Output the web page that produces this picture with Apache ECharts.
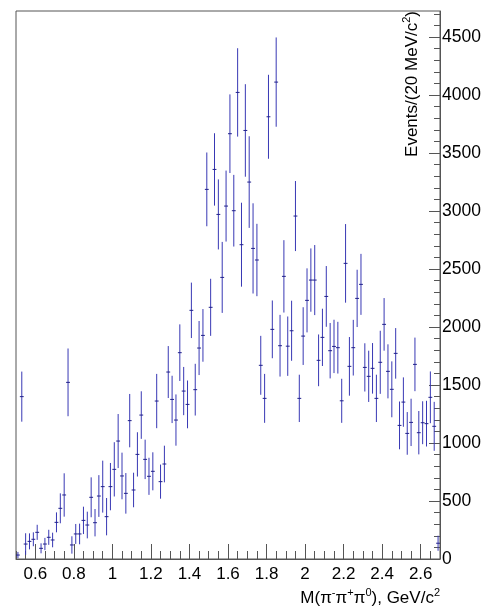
<!DOCTYPE html>
<html>
<head>
<meta charset="utf-8">
<script src="https://cdn.jsdelivr.net/npm/echarts@6/dist/echarts.min.js"></script>
<style>
  html, body { margin: 0; padding: 0; background: #ffffff; }
  #chart { width: 500px; height: 610px; }
</style>
</head>
<body>
<div id="chart"></div>
<script>
// Invariant mass bin centres (GeV/c^2), 20 MeV bins
const massBins = [
  0.51, 0.53, 0.55, 0.57, 0.59, 0.61, 0.63, 0.65, 0.67, 0.69,
  0.71, 0.73, 0.75, 0.77, 0.79, 0.81, 0.83, 0.85, 0.87, 0.89,
  0.91, 0.93, 0.95, 0.97, 0.99, 1.01, 1.03, 1.05, 1.07, 1.09,
  1.11, 1.13, 1.15, 1.17, 1.19, 1.21, 1.23, 1.25, 1.27, 1.29,
  1.31, 1.33, 1.35, 1.37, 1.39, 1.41, 1.43, 1.45, 1.47, 1.49,
  1.51, 1.53, 1.55, 1.57, 1.59, 1.61, 1.63, 1.65, 1.67, 1.69,
  1.71, 1.73, 1.75, 1.77, 1.79, 1.81, 1.83, 1.85, 1.87, 1.89,
  1.91, 1.93, 1.95, 1.97, 1.99, 2.01, 2.03, 2.05, 2.07, 2.09,
  2.11, 2.13, 2.15, 2.17, 2.19, 2.21, 2.23, 2.25, 2.27, 2.29,
  2.31, 2.33, 2.35, 2.37, 2.39, 2.41, 2.43, 2.45, 2.47, 2.49,
  2.51, 2.53, 2.55, 2.57, 2.59, 2.61, 2.63, 2.65, 2.67, 2.69
];

// Events per bin
const events = [
    34, 1400,  129,  152,  170,  230,   92,  129,  187,  164,
   316,  437,  552, 1523,  121,  216,  216,  333,  293,  532,
   313,  543,  624,  365,  624,  773, 1017,  716,  566, 1193,
   595,  902, 1241,  859,  713,  756, 1362,  667,  819, 1612,
  1376, 1198, 1779, 1448, 1333, 2144, 1460, 1819, 1928, 3187,
  2170, 3359, 2971, 2428, 3043, 3667, 3003, 4023, 2710, 3695,
  3250, 2678, 2578, 1670, 1385, 3813, 1980, 4112, 1839, 2437,
  1835, 1968, 2957, 1385, 1922, 2230, 2405, 2405, 1713, 1911,
  2264, 1796, 1833, 1822, 1364, 2549, 1661, 1822, 2247, 2368,
  1652, 1575, 1644, 1385, 1696, 2023, 1618, 1463, 1773, 1152,
  1353, 1083, 1178, 1678, 1089, 1175, 1167, 1394, 1144,  136
];

// Statistical uncertainty per bin
const eventErrors = [
   27, 216,  93,  69,  60,  65,  43,  53,  65,  63,
   86, 129, 187, 292,  75,  86,  89, 118, 115, 172,
  118, 180, 224, 161, 204, 234, 233, 201, 175, 230,
  149, 191, 205, 170, 160, 164, 234, 147, 158, 224,
  204, 221, 244, 208, 206, 239, 223, 233, 227, 318,
  246, 312, 302, 306, 306, 339, 309, 381, 362, 399,
  395, 389, 312, 254, 211, 362, 249, 385, 266, 312,
  256, 259, 302, 204, 249, 276, 273, 302, 223, 247,
  262, 239, 230, 223, 190, 339, 253, 240, 247, 263,
  208, 221, 218, 204, 272, 227, 233, 241, 218, 206,
  213, 184, 204, 231, 187, 185, 197, 223, 211,  65
];

// Axis tick positions
const massTicks = [0.6, 0.8, 1.0, 1.2, 1.4, 1.6, 1.8, 2.0, 2.2, 2.4, 2.6];
const massMinorTicks = [
  0.5, 0.55, 0.65, 0.7, 0.75, 0.85, 0.9, 0.95, 1.05, 1.1, 1.15,
  1.25, 1.3, 1.35, 1.45, 1.5, 1.55, 1.65, 1.7, 1.75, 1.85, 1.9, 1.95,
  2.05, 2.1, 2.15, 2.25, 2.3, 2.35, 2.45, 2.5, 2.55, 2.65, 2.7
];
const eventTicks = [0, 500, 1000, 1500, 2000, 2500, 3000, 3500, 4000, 4500];
const eventMinorTicks = [
  100, 200, 300, 400, 600, 700, 800, 900, 1100, 1200, 1300, 1400,
  1600, 1700, 1800, 1900, 2100, 2200, 2300, 2400, 2600, 2700, 2800, 2900,
  3100, 3200, 3300, 3400, 3600, 3700, 3800, 3900, 4100, 4200, 4300, 4400,
  4600, 4700
];

const BIN_HALF_WIDTH = 0.01;
const FONT = '"Liberation Sans", Arial, Helvetica, sans-serif';
const BAR_COLOR = '#3838b4';
const MARK_COLOR = '#20208a';
const AXIS_COLOR = '#555555';

const seriesData = massBins.map((m, i) => [m, events[i], eventErrors[i]]);

function renderErrorBar(params, api) {
  const x = api.value(0);
  const y = api.value(1);
  const e = api.value(2);
  const top = api.coord([x, y + e]);
  const bottom = api.coord([x, Math.max(y - e, 0)]);
  const left = api.coord([x - BIN_HALF_WIDTH, y]);
  const right = api.coord([x + BIN_HALF_WIDTH, y]);
  return {
    type: 'group',
    children: [
      {
        type: 'line',
        shape: { x1: top[0], y1: top[1], x2: bottom[0], y2: bottom[1] },
        style: { stroke: BAR_COLOR, lineWidth: 1 }
      },
      {
        type: 'line',
        shape: { x1: left[0], y1: left[1], x2: right[0], y2: right[1] },
        style: { stroke: MARK_COLOR, lineWidth: 1 }
      }
    ]
  };
}

const chart = echarts.init(document.getElementById('chart'), null, { renderer: 'canvas' });

const baseX = {
  type: 'value',
  min: 0.5,
  max: 2.7,
  position: 'bottom',
  splitLine: { show: false }
};
const baseY = {
  type: 'value',
  min: 0,
  max: 4725,
  position: 'right',
  splitLine: { show: false }
};

chart.setOption({
  animation: false,
  backgroundColor: '#ffffff',
  grid: {
    left: 16,
    right: 60,
    top: 11,
    bottom: 51,
    show: true,
    borderColor: AXIS_COLOR,
    borderWidth: 1,
    backgroundColor: 'transparent'
  },
  xAxis: [
    Object.assign({}, baseX, {
      axisLine: { show: true, lineStyle: { color: AXIS_COLOR, width: 1 } },
      axisTick: {
        show: true, inside: true, length: 15,
        customValues: massTicks,
        lineStyle: { color: AXIS_COLOR, width: 1 }
      },
      axisLabel: {
        show: true,
        customValues: massTicks,
        margin: 7,
        color: '#000000',
        fontSize: 17,
        fontFamily: FONT,
        formatter: (v) => String(Math.round(v * 10) / 10)
      }
    }),
    Object.assign({}, baseX, {
      axisLine: { show: false },
      axisTick: {
        show: true, inside: true, length: 8,
        customValues: massMinorTicks,
        lineStyle: { color: AXIS_COLOR, width: 1 }
      },
      axisLabel: { show: false }
    })
  ],
  yAxis: [
    Object.assign({}, baseY, {
      axisLine: { show: true, lineStyle: { color: AXIS_COLOR, width: 1 } },
      axisTick: {
        show: true, inside: true, length: 11,
        customValues: eventTicks,
        lineStyle: { color: AXIS_COLOR, width: 1 }
      },
      axisLabel: {
        show: true,
        customValues: eventTicks,
        margin: 2,
        color: '#000000',
        fontSize: 17.5,
        fontFamily: FONT,
        formatter: (v) => String(Math.round(v))
      }
    }),
    Object.assign({}, baseY, {
      axisLine: { show: false },
      axisTick: {
        show: true, inside: true, length: 6,
        customValues: eventMinorTicks,
        lineStyle: { color: AXIS_COLOR, width: 1 }
      },
      axisLabel: { show: false }
    })
  ],
  series: [
    {
      type: 'custom',
      name: 'events',
      xAxisIndex: 0,
      yAxisIndex: 0,
      renderItem: renderErrorBar,
      encode: { x: 0, y: 1 },
      data: seriesData,
      clip: true
    }
  ],
  graphic: [
    {
      type: 'text',
      x: 440,
      y: 597,
      style: {
        text: '{n|M(π}{s|-}{n|π}{s|+}{n|π}{s|0}{n|), GeV/c}{s|2}',
        align: 'right',
        verticalAlign: 'middle',
        rich: {
          n: { fontSize: 17, fontFamily: FONT, fill: '#000000', lineHeight: 20, verticalAlign: 'bottom' },
          s: { fontSize: 11, fontFamily: FONT, fill: '#000000', lineHeight: 11, verticalAlign: 'top' }
        }
      }
    },
    {
      type: 'text',
      x: 411,
      y: 11,
      rotation: Math.PI / 2,
      style: {
        text: '{n|Events/(20 MeV/c}{s|2}{n|)}',
        align: 'right',
        verticalAlign: 'middle',
        rich: {
          n: { fontSize: 17, fontFamily: FONT, fill: '#000000', lineHeight: 20, verticalAlign: 'bottom' },
          s: { fontSize: 11, fontFamily: FONT, fill: '#000000', lineHeight: 11, verticalAlign: 'top' }
        }
      }
    }
  ]
});
</script>
</body>
</html>
